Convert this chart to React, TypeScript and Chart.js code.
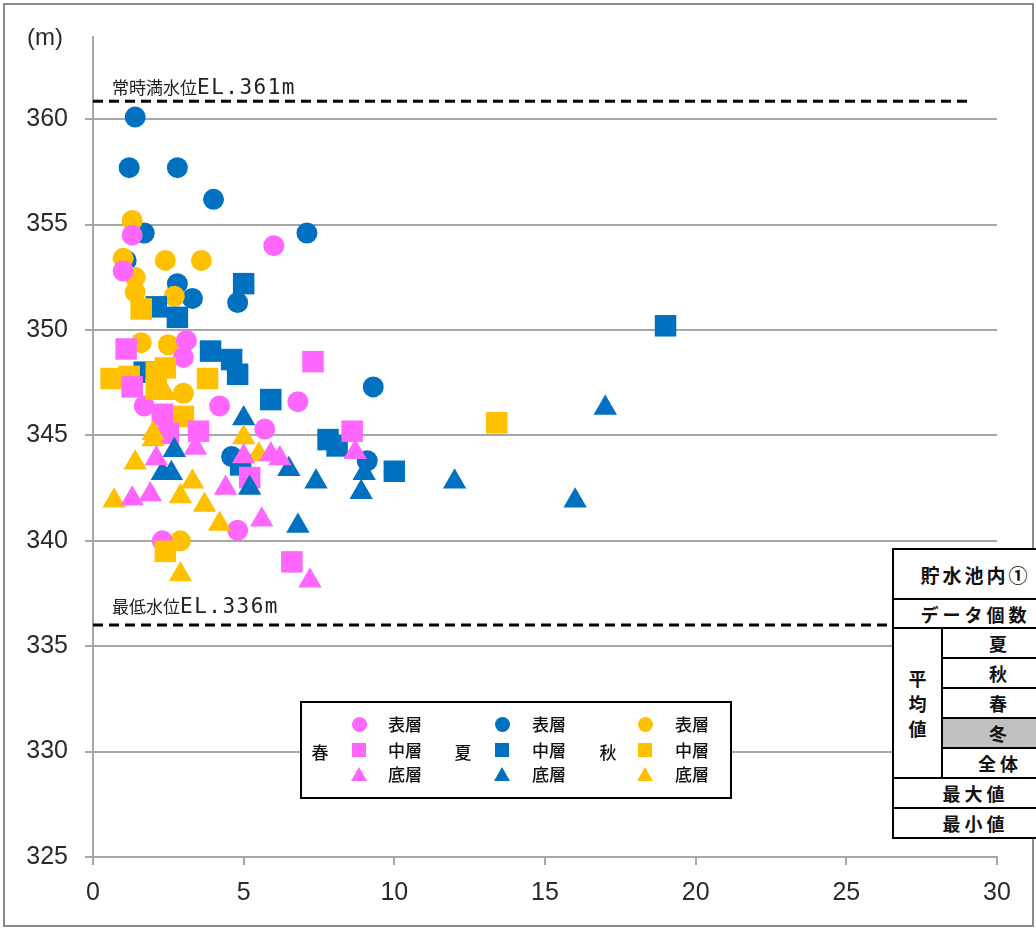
import React, { useEffect, useRef } from "react";
import { Chart, registerables } from "chart.js";

Chart.register(...registerables);

// ---- data (x, elevation in m) ----
const springSurface: number[][] = [
  [1.3, 354.5], [1.0, 352.8], [6.0, 354.0], [3.1, 349.5], [3.0, 348.7], [1.7, 346.4],
  [4.2, 346.4], [6.8, 346.6], [5.7, 345.3], [4.8, 340.5], [2.3, 340.0],
];
const springMiddle: number[][] = [
  [1.1, 349.1], [1.3, 347.3], [7.3, 348.5], [8.6, 345.2], [3.5, 345.2], [2.3, 346.0],
  [2.5, 345.1], [5.2, 343.0], [6.6, 339.0],
];
const springBottom: number[][] = [
  [7.2, 338.1], [5.6, 341.0], [4.4, 342.5], [1.9, 342.2], [1.3, 342.0], [2.1, 343.9],
  [3.4, 344.4], [5.0, 344.0], [6.2, 343.9], [8.7, 344.2], [5.9, 344.1],
];
const summerSurface: number[][] = [
  [1.4, 360.1], [1.2, 357.7], [2.8, 357.7], [4.0, 356.2], [1.7, 354.6], [7.1, 354.6],
  [1.1, 353.3], [2.8, 352.2], [3.3, 351.5], [4.8, 351.3], [9.3, 347.3], [4.6, 344.0], [9.1, 343.8],
];
const summerMiddle: number[][] = [
  [19.0, 350.2], [5.0, 352.2], [2.8, 350.6], [2.1, 351.1], [3.9, 349.0], [4.6, 348.6],
  [4.8, 347.9], [1.7, 348.0], [5.9, 346.7], [7.8, 344.8], [8.1, 344.5], [10.0, 343.3], [4.9, 343.6],
];
const summerBottom: number[][] = [
  [17.0, 346.3], [16.0, 341.9], [12.0, 342.8], [7.4, 342.8], [9.0, 343.2], [8.9, 342.3],
  [6.5, 343.4], [6.8, 340.7], [5.0, 345.8], [5.2, 342.5], [2.7, 344.3], [2.3, 343.2], [2.6, 343.2],
];
const autumnSurface: number[][] = [
  [1.3, 355.2], [1.0, 353.4], [2.4, 353.3], [3.6, 353.3], [1.4, 352.5], [1.4, 351.8],
  [2.7, 351.6], [1.6, 349.4], [2.5, 349.3], [3.0, 347.0], [2.9, 340.0],
];
const autumnMiddle: number[][] = [
  [13.4, 345.6], [0.6, 347.7], [1.2, 347.8], [1.6, 351.0], [2.1, 348.0], [2.4, 348.2],
  [3.8, 347.7], [2.1, 347.2], [3.0, 345.9], [2.4, 339.5],
];
const autumnBottom: number[][] = [
  [2.9, 338.4], [0.7, 341.9], [1.4, 343.7], [2.0, 345.1], [2.0, 344.8], [3.3, 342.8],
  [2.9, 342.1], [3.7, 341.7], [4.2, 340.8], [5.0, 344.9], [5.5, 344.1], [2.4, 347.0],
];

const xTicks = [0, 5, 10, 15, 20, 25, 30];
const yTicks = [325, 330, 335, 340, 345, 350, 355, 360];
const fullWaterLevel = 360.85; // drawn position of the EL.361m line
const lowWaterLevel = 336;
const levelLineX = [0, 29.1];

const seasonNames = ["春", "夏", "秋"];
const layerNames = ["表層", "中層", "底層"];
const tableRows = ["夏", "秋", "春", "冬", "全体"];

const PINK = "#FF66FF";
const BLUE = "#0070C0";
const GOLD = "#FFC000";
const GRID = "#a6a6a6";

const toPts = (a: number[][]) => a.map(([x, y]) => ({ x, y }));

function series(label: string, arr: number[][], color: string, style: string, order: number) {
  const radius = style === "circle" ? 10.5 : style === "rect" ? 15.2 : 13.5;
  return {
    label,
    data: toPts(arr),
    pointStyle: style,
    pointRadius: radius,
    pointHoverRadius: radius,
    backgroundColor: color,
    borderColor: color,
    borderWidth: 0,
    showLine: false,
    order,
  };
}

function levelLine(label: string, level: number) {
  return {
    type: "line",
    label,
    data: levelLineX.map((x) => ({ x, y: level })),
    borderColor: "#000",
    borderWidth: 3,
    borderDash: [10, 6],
    pointRadius: 0,
    showLine: true,
    fill: false,
    order: 100,
  };
}

const tickFont = { family: '"Liberation Sans", Arial, sans-serif', size: 25 };
const jp = '"Noto Sans CJK JP", "Noto Sans", sans-serif';

function Marker({ shape, color, cx, cy }: { shape: string; color: string; cx: number; cy: number }) {
  if (shape === "circle") {
    return <div style={{ position: "absolute", left: cx - 7.5, top: cy - 7.5, width: 15, height: 15, borderRadius: "50%", background: color }} />;
  }
  if (shape === "rect") {
    return <div style={{ position: "absolute", left: cx - 7, top: cy - 7, width: 14, height: 14, background: color }} />;
  }
  return (
    <div
      style={{
        position: "absolute", left: cx - 8, top: cy - 7, width: 16, height: 14, background: color,
        clipPath: "polygon(50% 0, 100% 100%, 0 100%)",
      }}
    />
  );
}

function Cell({ x1, y1, x2, y2, children, bg, style }: any) {
  return (
    <div
      style={{
        position: "absolute", left: x1 - 1, top: y1 - 1, width: x2 - x1 + 2, height: y2 - y1 + 2,
        boxSizing: "border-box", border: "2px solid #000", background: bg || "#fff",
        display: "flex", alignItems: "center", justifyContent: "center",
        fontFamily: jp, fontSize: 18, fontWeight: 700, color: "#111", letterSpacing: 4,
        ...(style || {}),
      }}
    >
      {children}
    </div>
  );
}

export default function App() {
  const ref = useRef<HTMLCanvasElement>(null);

  useEffect(() => {
    const datasets: any[] = [
      series("春 底層", springBottom, PINK, "triangle", 0),
      series("秋 底層", autumnBottom, GOLD, "triangle", 1),
      series("夏 底層", summerBottom, BLUE, "triangle", 2),
      series("春 中層", springMiddle, PINK, "rect", 3),
      series("秋 中層", autumnMiddle, GOLD, "rect", 4),
      series("夏 中層", summerMiddle, BLUE, "rect", 5),
      series("春 表層", springSurface, PINK, "circle", 6),
      series("秋 表層", autumnSurface, GOLD, "circle", 7),
      series("夏 表層", summerSurface, BLUE, "circle", 8),
      levelLine("常時満水位", fullWaterLevel),
      levelLine("最低水位", lowWaterLevel),
    ];
    const chart = new Chart(ref.current as HTMLCanvasElement, {
      type: "scatter",
      data: { datasets },
      options: {
        responsive: false,
        animation: false,
        devicePixelRatio: 1,
        events: [],
        layout: { padding: { top: 37, right: 39, left: 0, bottom: 0 } },
        plugins: { legend: { display: false }, tooltip: { enabled: false } },
        scales: {
          x: {
            type: "linear",
            min: 0,
            max: 30,
            afterBuildTicks: (s: any) => { s.ticks = xTicks.map((v) => ({ value: v })); },
            afterFit: (s: any) => { s.height = 72; },
            grid: { drawOnChartArea: false, drawTicks: true, tickLength: 8, color: GRID, lineWidth: 2 },
            border: { color: GRID, width: 2 },
            ticks: { font: tickFont, color: "#2a2a2a", padding: 13, maxRotation: 0, autoSkip: false },
          },
          y: {
            type: "linear",
            min: 325,
            max: 363.9,
            afterBuildTicks: (s: any) => { s.ticks = yTicks.map((v) => ({ value: v })); },
            afterFit: (s: any) => { s.width = 93; },
            grid: { color: GRID, lineWidth: 2, tickLength: 8 },
            border: { color: GRID, width: 2 },
            ticks: { font: tickFont, color: "#2a2a2a", padding: 17, autoSkip: false },
          },
        },
      } as any,
    });
    return () => chart.destroy();
  }, []);

  const groupX = [
    { label: 320, marker: 359, text: 388, color: PINK },
    { label: 463, marker: 502, text: 532, color: BLUE },
    { label: 608, marker: 645, text: 675, color: GOLD },
  ];
  const rowY = [724, 750, 774];
  const shapes = ["circle", "rect", "triangle"];
  const rowTops = [628, 658, 688, 718, 748, 778];

  const annot = (top: number, cjk: string, latin: string) => (
    <div style={{ position: "absolute", left: 112, top, height: 24, lineHeight: "24px", whiteSpace: "nowrap", color: "#222" }}>
      <span style={{ fontFamily: jp, fontSize: 17 }}>{cjk}</span>
      <span style={{ fontFamily: '"DejaVu Sans Mono", "Liberation Mono", monospace', fontSize: 21, letterSpacing: 1.5 }}>{latin}</span>
    </div>
  );

  return (
    <div style={{ position: "absolute", left: 0, top: 0, width: 1036, height: 929, overflow: "hidden", background: "#fff" }}>
      <canvas ref={ref} width={1036} height={929} style={{ position: "absolute", left: 0, top: 0, width: 1036, height: 929 }} />
      <div style={{ position: "absolute", left: 3, top: 3, width: 1031, height: 924, boxSizing: "border-box", border: "2px solid #8a8a8a" }} />
      <div style={{ position: "absolute", left: 27, top: 24, lineHeight: "26px", fontFamily: '"Liberation Sans", sans-serif', fontSize: 24, color: "#2a2a2a" }}>(m)</div>
      {annot(75, "常時満水位", "EL.361m")}
      {annot(594, "最低水位", "EL.336m")}

      {/* legend */}
      <div style={{ position: "absolute", left: 300, top: 701, width: 432, height: 98, boxSizing: "border-box", border: "2px solid #000", background: "#fff" }} />
      {groupX.map((g, gi) => (
        <React.Fragment key={gi}>
          <div style={{ position: "absolute", left: g.label - 10, top: 740, width: 20, textAlign: "center", lineHeight: "24px", fontFamily: jp, fontSize: 17, fontWeight: 500, color: "#111" }}>
            {seasonNames[gi]}
          </div>
          {rowY.map((y, ri) => (
            <React.Fragment key={ri}>
              <Marker shape={shapes[ri]} color={g.color} cx={g.marker} cy={y} />
              <div style={{ position: "absolute", left: g.text, top: y - 12, lineHeight: "24px", fontFamily: jp, fontSize: 17, fontWeight: 500, color: "#111", whiteSpace: "nowrap" }}>
                {layerNames[ri]}
              </div>
            </React.Fragment>
          ))}
        </React.Fragment>
      ))}

      {/* table */}
      <Cell x1={893} y1={549} x2={1058} y2={599} style={{ fontSize: 19, letterSpacing: 3 }}>貯水池内①</Cell>
      <Cell x1={893} y1={599} x2={1058} y2={628}>データ個数</Cell>
      <Cell x1={893} y1={628} x2={942} y2={778} style={{ lineHeight: "25px", letterSpacing: 0 }}>
        <div style={{ textAlign: "center" }}>平<br />均<br />値</div>
      </Cell>
      {tableRows.map((r, i) => (
        <Cell key={r} x1={942} y1={rowTops[i]} x2={1058} y2={rowTops[i + 1]} bg={r === "冬" ? "#c0c0c0" : "#fff"}>
          {r}
        </Cell>
      ))}
      <Cell x1={893} y1={778} x2={1058} y2={808}>最大値</Cell>
      <Cell x1={893} y1={808} x2={1058} y2={838}>最小値</Cell>
    </div>
  );
}
